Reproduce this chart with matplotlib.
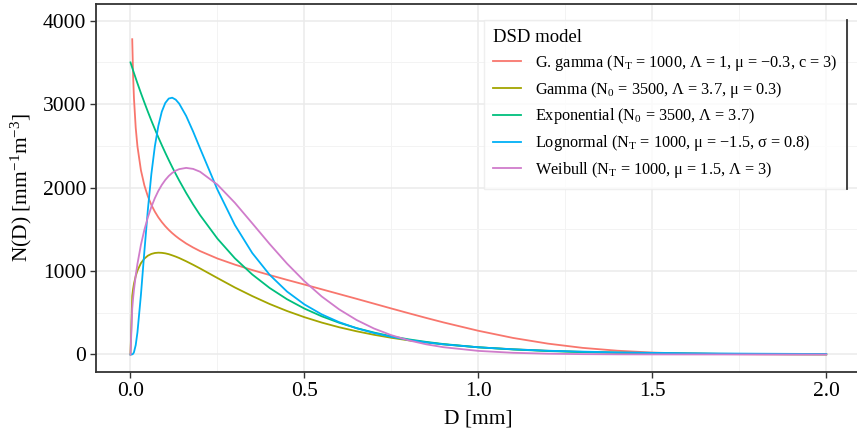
import matplotlib
matplotlib.use("Agg")
import matplotlib.pyplot as plt
from matplotlib.lines import Line2D
import numpy as np

plt.rcParams['font.family'] = ['Liberation Serif', 'DejaVu Serif']
plt.rcParams['mathtext.fontset'] = 'custom'
plt.rcParams['mathtext.rm'] = 'Liberation Serif'
plt.rcParams['mathtext.it'] = 'Liberation Serif:italic'

# diameters (mm) at which the curves were read
D = [0, 0.005, 0.0075, 0.01, 0.015, 0.02, 0.03, 0.04, 0.05, 0.06, 0.07, 0.08, 0.09, 0.1, 0.11,
     0.12, 0.13, 0.14, 0.16, 0.18, 0.2, 0.25, 0.3, 0.35, 0.4, 0.45, 0.5, 0.55, 0.6, 0.65,
     0.7, 0.75, 0.8, 0.85, 0.9, 1.0, 1.1, 1.2, 1.3, 1.4, 1.5, 1.6, 1.7, 1.8, 1.9, 2.0]

# N(D) values
gen_gamma = [np.nan, 3778, 3346, 3069, 2718, 2494, 2208, 2025, 1894, 1793, 1712, 1644, 1587, 1537, 1493,
             1454, 1419, 1387, 1330, 1282, 1239, 1150, 1077, 1012, 952, 894, 838, 781, 724, 667,
             609, 551, 494, 438, 384, 284, 198, 130, 79, 45, 23, 11, 4.8, 1.9, 0.7, 0.2]
gamma = [0, 701, 784, 847, 939, 1005, 1094, 1149, 1184, 1205, 1216, 1220, 1218, 1212, 1202,
         1188, 1173, 1156, 1117, 1075, 1031, 916, 803, 700, 605, 521, 447, 382, 326, 278,
         236, 200, 169, 144, 121, 86, 62, 44, 31, 22, 15, 11, 7.6, 5.4, 3.8, 2.6]
expo = [3500, 3436, 3404, 3373, 3311, 3250, 3132, 3019, 2909, 2803, 2701, 2603, 2509, 2418, 2330,
        2245, 2164, 2085, 1936, 1798, 1670, 1388, 1153, 959, 797, 662, 550, 457, 380, 316,
        263, 218, 181, 151, 125, 86, 60, 41, 28, 20, 14, 9.4, 6.5, 4.5, 3.1, 2.1]
lognorm = [0, 1.3, 8.3, 27, 112, 265, 714, 1239, 1737, 2162, 2493, 2738, 2910, 3014, 3067,
           3077, 3054, 3006, 2859, 2672, 2470, 1975, 1552, 1216, 955, 754, 600, 480, 387, 314,
           257, 211, 174, 145, 121, 86, 62, 45, 34, 25, 19.5, 15, 11.7, 9.2, 7.3, 5.8]
weibull = [0, 550, 673, 775, 945, 1086, 1314, 1495, 1644, 1769, 1873, 1960, 2032, 2091, 2139,
           2176, 2203, 2221, 2236, 2224, 2190, 2035, 1818, 1572, 1324, 1089, 878, 694, 540, 413,
           311, 231, 169, 122, 87, 43, 20, 9.2, 4.0, 1.7, 0.7, 0.3, 0.1, 0, 0, 0]

labels = [
    r"G. gamma ($\mathrm{N_T}$ = 1000, Λ = 1, μ = −0.3, c = 3)",
    r"Gamma ($\mathrm{N_0}$ = 3500, Λ = 3.7, μ = 0.3)",
    r"Exponential ($\mathrm{N_0}$ = 3500, Λ = 3.7)",
    r"Lognormal ($\mathrm{N_T}$ = 1000, μ = −1.5, σ = 0.8)",
    r"Weibull ($\mathrm{N_T}$ = 1000, μ = 1.5, Λ = 3)",
]
colors = ["#F8766D", "#A3A500", "#00BF7D", "#00B0F6", "#D07CCB"]

fig = plt.figure(figsize=(8.57, 4.37), dpi=100)
ax = fig.add_axes([95.7/857, 65/437, (861-95.7)/857, (433-65)/437])

for ys, lab, col in zip([gen_gamma, gamma, expo, lognorm, weibull], labels, colors):
    ax.plot(D, ys, color=col, lw=1.3, label=lab)

ax.set_xlim(-0.1, 2.1)
ax.set_ylim(-210, 4200)
ax.set_xticks([0, 0.5, 1.0, 1.5, 2.0])
ax.set_xticklabels(["0.0", "0.5", "1.0", "1.5", "2.0"])
ax.set_yticks([0, 1000, 2000, 3000, 4000])
ax.set_xticks([0.25, 0.75, 1.25, 1.75], minor=True)
ax.set_yticks([500, 1500, 2500, 3500], minor=True)
ax.grid(which='major', color='#EBEBEB', lw=1.1)
ax.grid(which='minor', color='#F3F3F3', lw=0.7)
ax.set_axisbelow(True)
ax.tick_params(which='major', labelsize=15.5, length=4, width=1, color='#333333', pad=3)
ax.tick_params(which='minor', length=0)
for s in ['left', 'bottom', 'top']:
    ax.spines[s].set_color('#333333')
    ax.spines[s].set_linewidth(1.3)
ax.spines['right'].set_visible(False)

ax.set_xlabel("D [mm]", fontsize=15.5, labelpad=6)
ax.set_ylabel(r"N(D) [mm$^{\mathrm{-1}}$m$^{\mathrm{-3}}$]", fontsize=15.5, labelpad=6)

leg = ax.legend(title="DSD model", loc='upper left', bbox_to_anchor=(484/857, 1-20/437),
                bbox_transform=fig.transFigure, borderaxespad=0, fontsize=11.7,
                title_fontsize=13.5, alignment='left', frameon=True, fancybox=False,
                handlelength=1.7, handletextpad=0.9, labelspacing=0.42, borderpad=0.55)
leg.get_frame().set_edgecolor('#EBEBEB')
leg.get_frame().set_linewidth(1.0)

fig.canvas.draw()
bb = leg.get_window_extent()
x1 = bb.x1 / fig.bbox.width
fig.add_artist(Line2D([x1, x1], [bb.y0 / fig.bbox.height, bb.y1 / fig.bbox.height],
                      color='#333333', lw=1.3, transform=fig.transFigure))

fig.savefig("out.png", dpi=100)
